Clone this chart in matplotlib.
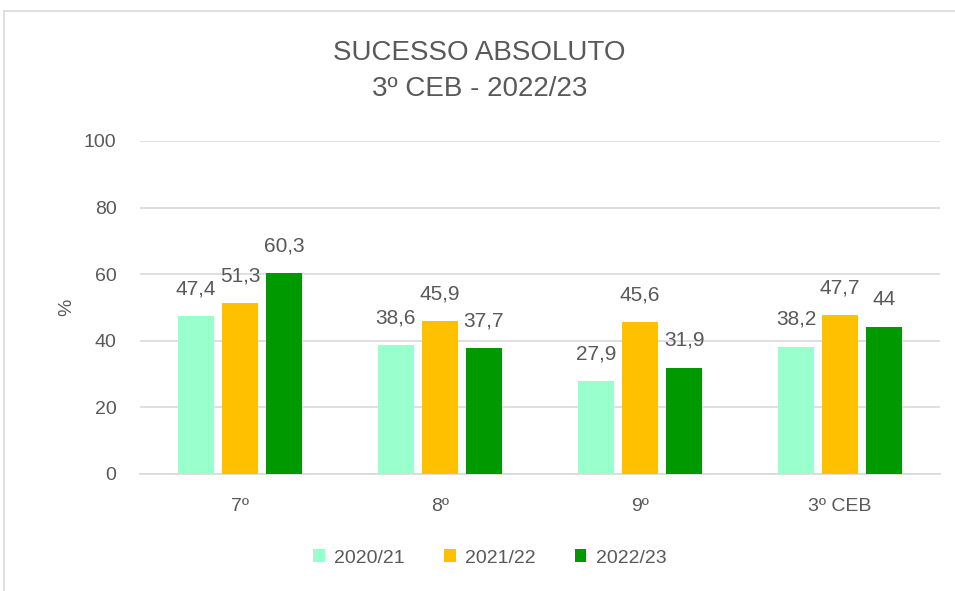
import matplotlib
matplotlib.use("Agg")
import matplotlib.pyplot as plt
import numpy as np
from matplotlib.patches import Rectangle

categories = ["7º", "8º", "9º", "3º CEB"]
series_names = ["2020/21", "2021/22", "2022/23"]
v2020 = [47.4, 38.6, 27.9, 38.2]
v2021 = [51.3, 45.9, 45.6, 47.7]
v2022 = [60.3, 37.7, 31.9, 44]
labels2020 = ["47,4", "38,6", "27,9", "38,2"]
labels2021 = ["51,3", "45,9", "45,6", "47,7"]
labels2022 = ["60,3", "37,7", "31,9", "44"]
colors = ["#99FFCC", "#FFC000", "#009900"]
yticks = [0, 20, 40, 60, 80, 100]

plt.rcParams['font.family'] = ['Liberation Sans', 'DejaVu Sans']
txt = "#595959"

fig = plt.figure(figsize=(9.55, 5.91), dpi=100)
fig.patches.append(Rectangle((4/955, -0.1), 1.2, (591-11)/591 + 0.1, transform=fig.transFigure,
                             fill=False, edgecolor="#D9D9D9", linewidth=1.2))
ax = fig.add_axes([140/955, 117/591, 800/955, 333/591])

x = np.arange(len(categories))
w = 0.18
off = 0.22
data = [v2020, v2021, v2022]
labs = [labels2020, labels2021, labels2022]
for i, (vals, lab) in enumerate(zip(data, labs)):
    bars = ax.bar(x + (i - 1) * off, vals, width=w, color=colors[i], label=series_names[i], zorder=3)
    ax.bar_label(bars, labels=lab, padding=13, fontsize=15, color=txt)

ax.set_xlim(-0.5, 3.5)
ax.set_ylim(0, 100)
ax.set_yticks(yticks)
ax.set_yticklabels([str(t) for t in yticks], fontsize=14, color=txt)
ax.set_xticks(x)
ax.set_xticklabels(categories, fontsize=14, color=txt)
ax.tick_params(axis='y', length=0, pad=17)
ax.tick_params(axis='x', length=0, pad=17)
ax.grid(axis='y', color="#D9D9D9", linewidth=1.2, zorder=0)
for s in ["top", "right", "left"]:
    ax.spines[s].set_visible(False)
ax.spines["bottom"].set_color("#D9D9D9")
ax.spines["bottom"].set_linewidth(1.2)
ax.set_ylabel("%", fontsize=14, color=txt, labelpad=6)

fig.text(0.5 + 4/955/2, 1 - 71/591, "SUCESSO ABSOLUTO\n3º CEB - 2022/23", ha="center", va="center",
         fontsize=20, color=txt, linespacing=1.5)

leg = fig.legend(*ax.get_legend_handles_labels(), loc="center", bbox_to_anchor=(0.513, 1 - 558/591),
                 ncol=3, frameon=False, fontsize=14, labelcolor=txt, handlelength=0.6, handleheight=0.6,
                 columnspacing=2.0, handletextpad=0.5)

fig.savefig("out.png", dpi=100)
